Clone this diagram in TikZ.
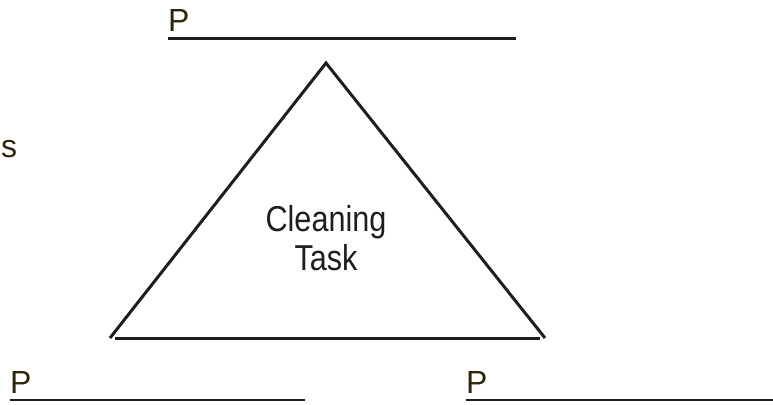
\documentclass[tikz,border=0pt]{standalone}
\usepackage{fontspec}
\setmainfont{Liberation Sans}
\definecolor{labcol}{RGB}{45,38,10}
\definecolor{linecol}{RGB}{30,30,30}
\begin{document}
\begin{tikzpicture}[x=1pt,y=-1pt,
  plabel/.style={anchor=base west,inner sep=0pt,text=labcol,font=\fontsize{32}{36}\selectfont},
  blank/.style={draw=linecol,line width=2.2pt},
  side/.style={draw=linecol,line width=3pt},
  tasktext/.style={anchor=base,inner sep=0pt,text=linecol,font=\fontsize{36}{40}\selectfont}]
\useasboundingbox (0,0) rectangle (773,404);
% labels
\node[plabel] (ptop) at (168,32) {P};
\node[plabel] (sleft) at (1,157) {s};
\node[plabel] (pbl) at (10,393) {P};
\node[plabel] (pbr) at (466,393) {P};
% blank lines
\coordinate (ltA) at (168,38.5);
\coordinate (ltB) at (516,38.5);
\coordinate (lblA) at (10,400);
\coordinate (lblB) at (305,400);
\coordinate (lbrA) at (466,400);
\coordinate (lbrB) at (773,400);
\draw[blank] (ltA) -- (ltB);
\draw[blank] (lblA) -- (lblB);
\draw[blank] (lbrA) -- (lbrB);
% triangle
\coordinate (apex) at (326,63);
\coordinate (bl) at (110,338);
\coordinate (br) at (545,338);
\coordinate (baseA) at (115,338);
\coordinate (baseB) at (540,338);
\draw[side] (bl) -- (apex) -- (br);
\draw[side] (baseA) -- (baseB);
% text
\node[tasktext] (t1) at (326,231) {\scalebox{0.85}[1]{Cleaning}};
\node[tasktext] (t2) at (326,270) {\scalebox{0.85}[1]{Task}};
\end{tikzpicture}
\end{document}
